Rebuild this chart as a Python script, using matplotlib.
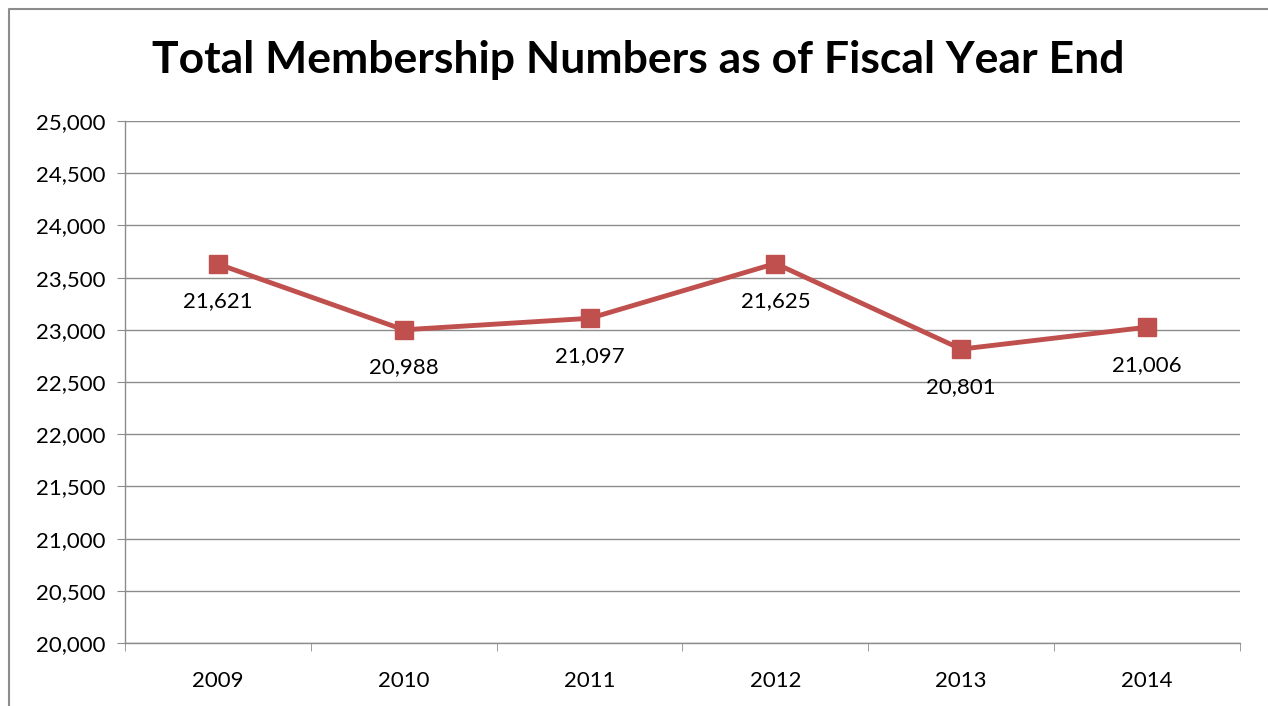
import numpy as np
import matplotlib
matplotlib.use("Agg")
import matplotlib.pyplot as plt
from matplotlib.lines import Line2D
from matplotlib.ticker import FuncFormatter, FixedLocator

years = ["2009", "2010", "2011", "2012", "2013", "2014"]
# values as plotted on the chart
plotted = [23630, 23000, 23110, 23635, 22815, 23025]
# data labels as printed on the chart
labels = ["21,621", "20,988", "21,097", "21,625", "20,801", "21,006"]

plt.rcParams['font.family'] = ['Lato', 'DejaVu Sans']

W, H = 1268, 706
fig = plt.figure(figsize=(W / 100, H / 100), dpi=100)
ax = fig.add_axes([125 / W, 1 - 643 / H, (1240 - 125) / W, (643 - 121) / H])

x = np.arange(len(years))
ax.plot(x, plotted, color='#C0504D', linewidth=3.5, marker='s', markersize=13,
        markerfacecolor='#C0504D', markeredgecolor='#C0504D', zorder=3)
for xi, yi, lab in zip(x, plotted, labels):
    ax.annotate(lab, xy=(xi, yi), xytext=(0, -27), textcoords='offset points',
                ha='center', va='center', fontsize=16)

ax.set_xlim(-0.5, len(years) - 0.5)
ax.set_ylim(20000, 25000)
ax.set_yticks(np.arange(20000, 25001, 500))
ax.yaxis.set_major_formatter(FuncFormatter(lambda v, p: f"{int(v):,}"))
ax.grid(axis='y', color='#8c8c8c', linewidth=1)
ax.set_axisbelow(True)

ax.set_xticks(x)
ax.set_xticklabels(years)
ax.xaxis.set_minor_locator(FixedLocator(np.arange(-0.5, len(years), 1)))
ax.tick_params(axis='x', which='major', length=0, pad=20, labelsize=16)
ax.tick_params(axis='x', which='minor', length=6, color='#8c8c8c', direction='out')
ax.tick_params(axis='y', length=6, color='#8c8c8c', labelsize=16, pad=8)

for s in ['top', 'right']:
    ax.spines[s].set_visible(False)
for s in ['left', 'bottom']:
    ax.spines[s].set_color('#8c8c8c')
    ax.spines[s].set_linewidth(1)

fig.text(638 / W, 1 - 60 / H, "Total Membership Numbers as of Fiscal Year End",
         ha='center', va='center', fontsize=32, fontweight='bold')

# chart frame (left and top edges visible)
fig.add_artist(Line2D([9 / W, 9 / W, 1.0], [0.0, 1 - 9 / H, 1 - 9 / H],
                      transform=fig.transFigure, color='#8c8c8c', linewidth=1.5))

fig.savefig("out.png", dpi=100)
